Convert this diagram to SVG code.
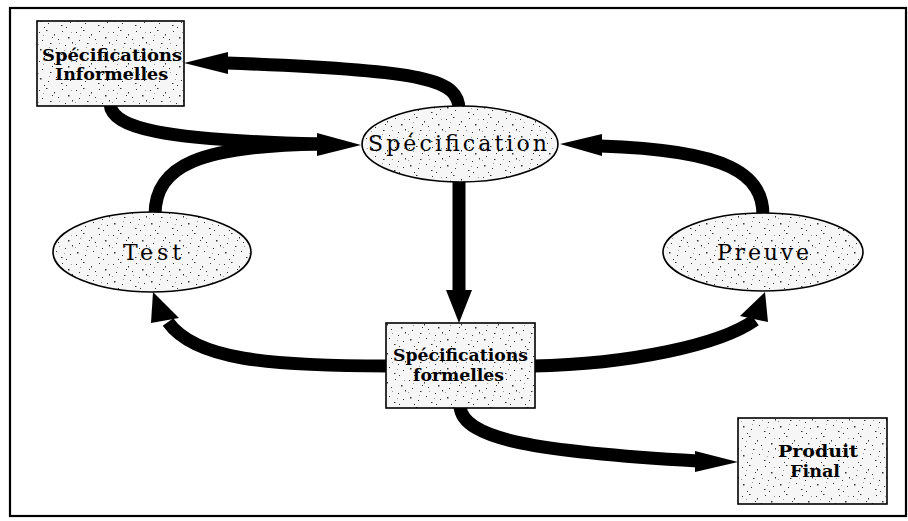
<svg xmlns="http://www.w3.org/2000/svg" width="908" height="521" viewBox="0 0 908 521">
<defs>
<pattern id="speck" width="37" height="29" patternUnits="userSpaceOnUse">
<rect width="37" height="29" fill="#f6f6f6"/>
<g fill="#333">
<rect x="2" y="3" width="1" height="1"/><rect x="9" y="1" width="1.5" height="1"/><rect x="17" y="5" width="1" height="1.5"/>
<rect x="25" y="2" width="1" height="1"/><rect x="31" y="8" width="1.5" height="1.5"/><rect x="5" y="11" width="1" height="1"/>
<rect x="13" y="14" width="1.5" height="1"/><rect x="21" y="10" width="1" height="1"/><rect x="28" y="16" width="1" height="1"/>
<rect x="35" y="13" width="1" height="1.5"/><rect x="3" y="20" width="1.5" height="1.5"/><rect x="11" y="23" width="1" height="1"/>
<rect x="19" y="19" width="1" height="1"/><rect x="24" y="25" width="1.5" height="1"/><rect x="33" y="22" width="1" height="1"/>
<rect x="7" y="27" width="1" height="1"/><rect x="15" y="8" width="1" height="1"/><rect x="29" y="27" width="1" height="1"/>
</g>
<g fill="#999">
<rect x="6" y="6" width="1" height="1"/><rect x="22" y="14" width="1" height="1"/><rect x="34" y="3" width="1" height="1"/>
<rect x="12" y="18" width="1" height="1"/><rect x="27" y="21" width="1" height="1"/><rect x="1" y="15" width="1" height="1"/>
</g>
</pattern>
<style>
.node { fill: url(#speck); stroke: #000; stroke-width: 1.6; }
.shaft { fill: none; stroke: #000; stroke-width: 13; }
.head { fill: #000; }
.lbl { font-family: "DejaVu Serif", "Liberation Serif", serif; fill: #000; }
.box { font-size: 16px; font-weight: bold; }
.ell { font-size: 22px; }
</style>
</defs>
<rect x="10" y="8" width="896" height="508" fill="#fff" stroke="#000" stroke-width="2.2"/>

<g id="connectors">
<path class="shaft" d="M 459 110 C 459 80, 430 70, 226 63"/>
<polygon class="head" points="184,63 228,52 228,74"/>
<path class="shaft" d="M 110 104 C 112 128, 160 140, 320 144"/>
<path class="shaft" d="M 155 215 C 155 165, 200 146, 320 144"/>
<polygon class="head" points="361,145 317,133 317,156"/>
<path class="shaft" d="M 459 180 L 459 292"/>
<polygon class="head" points="459,323 446,290 472,290"/>
<path class="shaft" d="M 388 366 C 270 366, 195 360, 168 322"/>
<polygon class="head" points="153,292 151,323 179,318"/>
<path class="shaft" d="M 533 366 C 630 364, 720 345, 755 320"/>
<polygon class="head" points="765,292 740,316 768,322"/>
<path class="shaft" d="M 460 406 C 462 440, 540 452, 698 461"/>
<polygon class="head" points="738,462 695,451 695,472"/>
<path class="shaft" d="M 763 215 C 763 175, 730 150, 600 146"/>
<polygon class="head" points="560,144 602,134 602,156"/>
</g>

<g id="spec-informelles">
<rect class="node" x="37" y="21" width="147" height="85"/>
<text class="lbl box" x="42" y="61" textLength="140" lengthAdjust="spacingAndGlyphs">Spécifications</text>
<text class="lbl box" x="55" y="80" textLength="113" lengthAdjust="spacingAndGlyphs">Informelles</text>
</g>

<g id="specification">
<ellipse class="node" cx="460" cy="144" rx="98" ry="38"/>
<text class="lbl ell" x="368" y="151" textLength="179" lengthAdjust="spacing">Spécification</text>
</g>

<g id="test">
<ellipse class="node" cx="152" cy="252" rx="99" ry="40"/>
<text class="lbl ell" x="123" y="260" textLength="58" lengthAdjust="spacing">Test</text>
</g>

<g id="preuve">
<ellipse class="node" cx="763" cy="252" rx="100" ry="39"/>
<text class="lbl ell" x="717" y="260" textLength="92" lengthAdjust="spacing">Preuve</text>
</g>

<g id="spec-formelles">
<rect class="node" x="386" y="323" width="149" height="85"/>
<text class="lbl box" x="393" y="361" textLength="135" lengthAdjust="spacingAndGlyphs">Spécifications</text>
<text class="lbl box" x="413" y="381" textLength="91" lengthAdjust="spacingAndGlyphs">formelles</text>
</g>

<g id="produit-final">
<rect class="node" x="738" y="418" width="149" height="86"/>
<text class="lbl box" x="778" y="457" textLength="80" lengthAdjust="spacingAndGlyphs">Produit</text>
<text class="lbl box" x="790" y="477" textLength="50" lengthAdjust="spacingAndGlyphs">Final</text>
</g>
</svg>
